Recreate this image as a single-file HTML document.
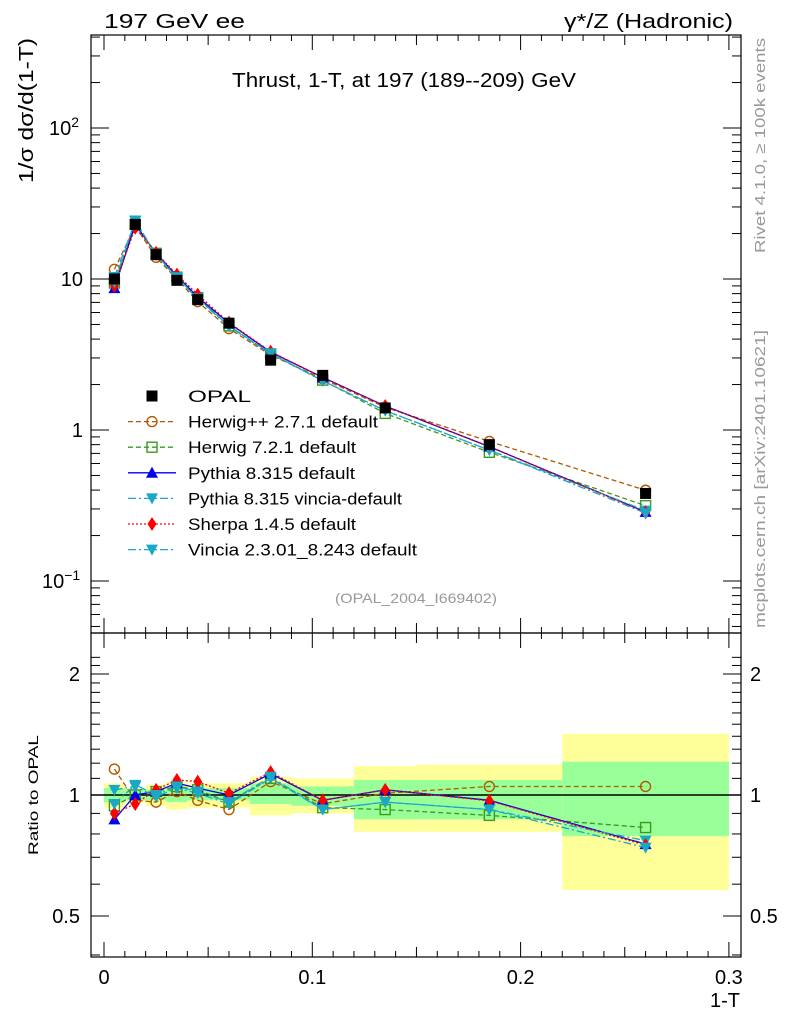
<!DOCTYPE html>
<html><head><meta charset="utf-8"><style>
body{margin:0;background:#fff;}
svg{display:block;font-family:"Liberation Sans",sans-serif;}
</style></head><body>
<svg id="c" width="786" height="1024" viewBox="0 0 786 1024">
<rect x="0" y="0" width="786" height="1024" fill="#fff"/>
<g id="bands"></g>
<g id="series"></g>
<rect x="91" y="35" width="650" height="598" fill="none" stroke="#000" stroke-width="1.2"/>
<rect x="91" y="633" width="650" height="324" fill="none" stroke="#000" stroke-width="1.2"/>
<g id="axes"></g>
<text x="104" y="28" font-size="20" textLength="141" lengthAdjust="spacingAndGlyphs">197 GeV ee</text>
<text x="564" y="28" font-size="20" textLength="169" lengthAdjust="spacingAndGlyphs">γ*/Z (Hadronic)</text>
<text x="232" y="87" font-size="20" textLength="344" lengthAdjust="spacingAndGlyphs">Thrust, 1-T, at 197 (189--209) GeV</text>
<text x="335" y="603" font-size="14" fill="#999" textLength="162" lengthAdjust="spacingAndGlyphs">(OPAL_2004_I669402)</text>
<text transform="translate(33,183) rotate(-90)" font-size="20" textLength="145" lengthAdjust="spacingAndGlyphs">1/σ   dσ/d(1-T)</text>
<text transform="translate(38,855) rotate(-90)" font-size="14" textLength="120" lengthAdjust="spacingAndGlyphs">Ratio to OPAL</text>
<text x="740" y="1007" font-size="20" text-anchor="end">1-T</text>
<text transform="translate(765,253) rotate(-90)" font-size="15" fill="#999" textLength="215" lengthAdjust="spacingAndGlyphs">Rivet 4.1.0, ≥ 100k events</text>
<text transform="translate(765,628) rotate(-90)" font-size="15" fill="#999" textLength="298" lengthAdjust="spacingAndGlyphs">mcplots.cern.ch [arXiv:2401.10621]</text>
<g id="legend"></g>
</svg>
<script>
const binLo=[0,0.01,0.02,0.03,0.04,0.05,0.07,0.09,0.12,0.15,0.22];
const binHi=[0.01,0.02,0.03,0.04,0.05,0.07,0.09,0.12,0.15,0.22,0.30];
const xs=[0.005,0.015,0.025,0.035,0.045,0.06,0.08,0.105,0.135,0.185,0.26];
const opal=[10.0,23,14.5,9.8,7.3,5.1,2.9,2.3,1.4,0.8,0.38];
const yelLo=[0.93,0.96,0.94,0.92,0.93,0.93,0.89,0.90,0.81,0.81,0.58];
const yelHi=[1.07,1.04,1.06,1.08,1.07,1.07,1.11,1.10,1.18,1.19,1.42];
const grnLo=[0.96,0.97,0.97,0.96,0.97,0.97,0.95,0.94,0.87,0.87,0.79];
const grnHi=[1.04,1.03,1.03,1.05,1.04,1.04,1.07,1.05,1.09,1.09,1.21];
const rHerwigpp=[1.16,0.97,0.96,1.02,0.97,0.92,1.08,0.95,1.01,1.05,1.05];
const rHerwig7=[0.94,1.00,1.02,1.05,1.03,0.96,1.10,0.93,0.92,0.89,0.83];
const rPythia=[0.87,1.00,1.02,1.07,1.04,1.00,1.13,0.97,1.03,0.97,0.755];
const rPyVincia=[1.03,1.05,0.99,1.04,1.01,0.95,1.10,0.92,0.96,0.92,0.77];
const rSherpa=[0.90,0.95,1.03,1.09,1.08,1.01,1.14,0.97,1.03,0.967,0.75];
const rVincia=[0.95,1.06,1.00,1.05,1.02,0.96,1.11,0.92,0.96,0.92,0.74];
const legendNames=["OPAL","Herwig++ 2.7.1 default","Herwig 7.2.1 default","Pythia 8.315 default","Pythia 8.315 vincia-default","Sherpa 1.4.5 default","Vincia 2.3.01_8.243 default"];
const legendWidths=[63,190,168,167,214,168,229];

const NS="http://www.w3.org/2000/svg";
const X=v=>104+v*2083;
const Y=v=>430-151*Math.log10(v);
const R=v=>795-402*Math.log10(v);
function mk(p,tag,attrs){const e=document.createElementNS(NS,tag);for(const k in attrs)e.setAttribute(k,attrs[k]);p.appendChild(e);return e;}
const bands=document.getElementById('bands'),ser=document.getElementById('series'),ax=document.getElementById('axes'),leg=document.getElementById('legend');

for(let i=0;i<binLo.length;i++){
 const a=mk(bands,'rect',{x:X(binLo[i]),y:R(yelHi[i]),width:X(binHi[i])-X(binLo[i]),height:R(yelLo[i])-R(yelHi[i]),fill:'#ffff99'});
 
 
 const b=mk(bands,'rect',{x:X(binLo[i]),y:R(grnHi[i]),width:X(binHi[i])-X(binLo[i]),height:R(grnLo[i])-R(grnHi[i]),fill:'#99ff99'});
 
 
}
const one=mk(bands,'line',{x1:91,x2:741,y1:R(1),y2:R(1),stroke:'#000','stroke-width':1.5});



function marker(p,type,x,y,col){
 if(type==='sq')return mk(p,'rect',{x:x-5.5,y:y-5.5,width:11,height:11,fill:'#000'});
 if(type==='circ')return mk(p,'circle',{cx:x,cy:y,r:5,fill:'none',stroke:col,'stroke-width':1.4});
 if(type==='osq')return mk(p,'rect',{x:x-5,y:y-5,width:10,height:10,fill:'none',stroke:col,'stroke-width':1.4});
 if(type==='up')return mk(p,'polygon',{points:`${x},${y-6} ${x-6},${y+5} ${x+6},${y+5}`,fill:col});
 if(type==='down')return mk(p,'polygon',{points:`${x},${y+6} ${x-6},${y-5} ${x+6},${y-5}`,fill:col});
 if(type==='dia')return mk(p,'polygon',{points:`${x},${y-7} ${x-4.5},${y} ${x},${y+7} ${x+4.5},${y}`,fill:col});
}
const series=[
 {r:rHerwigpp,col:'#b35900',dash:'5,3',m:'circ',n:'herwigpp'},
 {r:rHerwig7,col:'#3a9a20',dash:'5,3',m:'osq',n:'herwig7'},
 {r:rPythia,col:'#0000ee',dash:'',m:'up',n:'pythia'},
 {r:rPyVincia,col:'#1aa8c8',dash:'8,3,2,3',m:'down',n:'pythia-vincia'},
 {r:rSherpa,col:'#ff0000',dash:'2,2',m:'dia',n:'sherpa'},
 {r:rVincia,col:'#1aa8c8',dash:'8,3,2,3',m:'down',n:'vincia'}
];
series.forEach(s=>{
 const main=xs.map((x,i)=>[X(x),Y(opal[i]*s.r[i])]);
 const rat=xs.map((x,i)=>[X(x),R(s.r[i])]);
 [main,rat].forEach((pts,k)=>{
  const l=mk(ser,'polyline',{points:pts.map(p=>p.join(',')).join(' '),fill:'none',stroke:s.col,'stroke-width':1.3,'stroke-dasharray':s.dash});
  
  
  pts.forEach(p=>{const m=marker(ser,s.m,p[0],p[1],s.col);
   
   });
 });
});
xs.forEach((x,i)=>{const m=marker(ser,'sq',X(x),Y(opal[i]));
 
 });

function tk(x1,y1,x2,y2){mk(ax,'line',{x1,y1,x2,y2,stroke:'#000','stroke-width':1});}
function lbl(x,y,t,anchor,size){const e=mk(ax,'text',{x,y,'font-size':size||20,'text-anchor':anchor||'middle'});e.textContent=t;
 
 return e;}
for(let k=0;k<=30;k++){const v=k*0.01;const px=X(v);const big=k%10===0;const mid=k%5===0;const L=big?15:(mid?10:6);
 tk(px,957,px,957-L);tk(px,633,px,633-L);tk(px,35,px,35+L);tk(px,633,px,633+L);}
[0,0.1,0.2,0.3].forEach(v=>lbl(X(v),984,v===0?'0':String(v)));
for(let e=-2;e<=2;e++)for(let m=1;m<10;m++){const v=m*Math.pow(10,e);const py=Y(v);if(py<35||py>633)continue;const L=m===1?18:9;tk(91,py,91+L,py);tk(741,py,741-L,py);}
const ylab=[[100,'10','2'],[10,'10',''],[1,'1',''],[0.1,'10','−1']];
ylab.forEach(([v,b,s])=>{const e=lbl(83,Y(v)+7,b,'end');if(s){e.textContent='';e.setAttribute('text-anchor','start');e.setAttribute('x',s==='2'?49:42);const t1=mk(e,'tspan',{});t1.textContent=b;const t2=mk(e,'tspan',{dy:-8,'font-size':14});t2.textContent=s;}});
[0.5,0.6,0.7,0.8,0.9,1,2].forEach(v=>{const py=R(v);const L=(v===1||v===2||v===0.5)?18:9;tk(91,py,91+L,py);tk(741,py,741-L,py);});
for(let v=1.1;v<2.3;v+=0.1){const py=R(v);if(py<633)continue;tk(91,py,100,py);tk(741,py,732,py);}
{const py=R(0.4);tk(91,py,100,py);tk(741,py,732,py);}
[[2,'2'],[1,'1'],[0.5,'0.5']].forEach(([v,t])=>{lbl(80,R(v)+7,t,'end');lbl(750,R(v)+7,t,'start');});

const legStyles=[{m:'sq'},{m:'circ',c:'#b35900',d:'5,3'},{m:'osq',c:'#3a9a20',d:'5,3'},{m:'up',c:'#0000ee',d:''},{m:'down',c:'#1aa8c8',d:'8,3,2,3'},{m:'dia',c:'#ff0000',d:'2,2'},{m:'down',c:'#1aa8c8',d:'8,3,2,3'}];
legendNames.forEach((n,i)=>{const y=396+25.6*i;const g=mk(leg,'g',{});
 
 
 const st=legStyles[i];
 if(i>0)mk(g,'line',{x1:128,x2:176,y1:y,y2:y,stroke:st.c,'stroke-width':1.3,'stroke-dasharray':st.d});
 marker(g,st.m,152,y,st.c);
 const t=mk(g,'text',{x:188,y:y+6,'font-size':17,textLength:legendWidths[i],lengthAdjust:'spacingAndGlyphs'});t.textContent=n;});
</script>
</body></html>
